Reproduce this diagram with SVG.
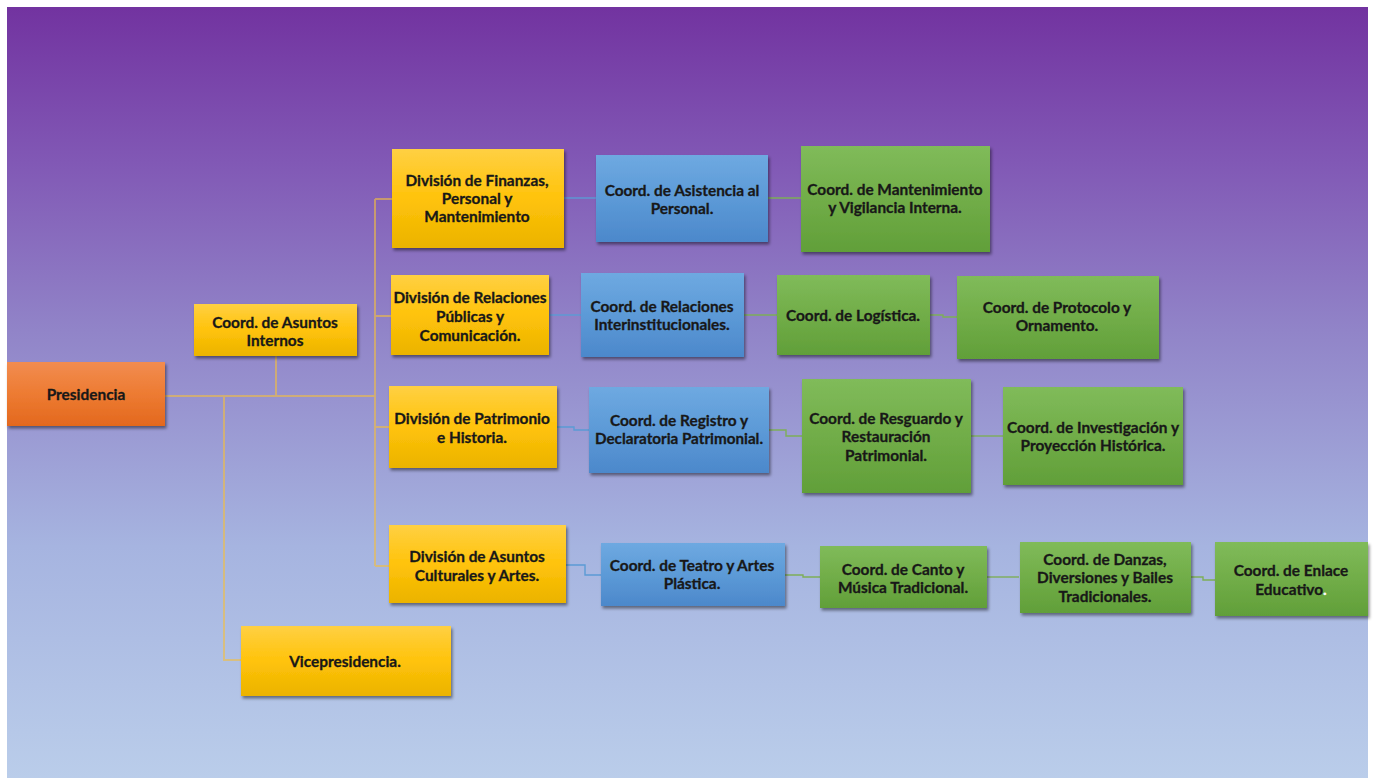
<svg xmlns="http://www.w3.org/2000/svg" width="1375" height="778" viewBox="0 0 1375 778">
<defs>
<linearGradient id="bg" x1="0" y1="0" x2="0" y2="1">
<stop offset="0" stop-color="#7233A0"/>
<stop offset="0.2" stop-color="#8158B5"/>
<stop offset="0.42" stop-color="#9184C8"/>
<stop offset="0.7" stop-color="#A6B4E0"/>
<stop offset="1" stop-color="#BACDEA"/>
</linearGradient>
<linearGradient id="gy" x1="0" y1="0" x2="0" y2="1">
<stop offset="0" stop-color="#FFD043"/>
<stop offset="0.5" stop-color="#FFC30A"/>
<stop offset="1" stop-color="#EBB300"/>
</linearGradient>
<linearGradient id="gb" x1="0" y1="0" x2="0" y2="1">
<stop offset="0" stop-color="#6EA9E1"/>
<stop offset="0.5" stop-color="#5C9AD7"/>
<stop offset="1" stop-color="#4C88CB"/>
</linearGradient>
<linearGradient id="gg" x1="0" y1="0" x2="0" y2="1">
<stop offset="0" stop-color="#80BB5A"/>
<stop offset="0.5" stop-color="#71AD48"/>
<stop offset="1" stop-color="#619F39"/>
</linearGradient>
<linearGradient id="go" x1="0" y1="0" x2="0" y2="1">
<stop offset="0" stop-color="#F28C50"/>
<stop offset="0.5" stop-color="#ED7B32"/>
<stop offset="1" stop-color="#E3681E"/>
</linearGradient>
<filter id="sh" x="-10%" y="-10%" width="125%" height="135%">
<feDropShadow dx="1.5" dy="2.5" stdDeviation="1.6" flood-color="#000" flood-opacity="0.45"/>
</filter>
</defs>
<style>
.y{fill:url(#gy);filter:url(#sh)}
.b{fill:url(#gb);filter:url(#sh)}
.g{fill:url(#gg);filter:url(#sh)}
.o{fill:url(#go);filter:url(#sh)}
text{font-family:Lato,"Open Sans","Liberation Sans",sans-serif;font-weight:bold;font-size:15.4px;fill:#181818;stroke:#181818;stroke-width:0.3;text-anchor:middle;dominant-baseline:central}
.main{fill:none;stroke:#F4BE3E;stroke-opacity:0.6;stroke-width:2}
.cb{fill:none;stroke:#5B9BD5;stroke-width:1.4}
.cg{fill:none;stroke:#7DAE58;stroke-width:1.4}
</style>
<rect x="0" y="0" width="1375" height="778" fill="#FFFFFF"/>
<rect x="7" y="7" width="1361" height="771" fill="url(#bg)"/>

<g id="connectors">
<path class="main" d="M165 396 H375 M276 356 V396 M375 199 V566 M375 199 H392 M375 316 H391 M375 427 H389 M375 566 H389 M224 396 V660 H241"/>
<path class="cb" d="M564 198 H596"/>
<path class="cg" d="M768 198 H801"/>
<path class="cb" d="M549 315 H581"/>
<path class="cg" d="M744 315 H777"/>
<path class="cg" d="M930 315 H943 V317 H957"/>
<path class="cb" d="M557 427 H574 V430 H589"/>
<path class="cg" d="M769 430 H786 V436 H802"/>
<path class="cg" d="M971 436 H1003"/>
<path class="cb" d="M566 565 H585 V575 H601"/>
<path class="cg" d="M784 575 H803 V577 H820"/>
<path class="cg" d="M987 577 H1019"/>
<path class="cg" d="M1191 577 H1203 V580 H1215"/>
</g>

<g id="presidencia">
<rect class="o" x="7" y="362" width="158" height="64"/>
<text x="86" y="394">Presidencia</text>
</g>
<g id="asuntos-internos">
<rect class="y" x="194" y="304" width="163" height="52"/>
<text x="275" y="322">Coord. de Asuntos</text>
<text x="275" y="340">Internos</text>
</g>
<g id="vicepresidencia">
<rect class="y" x="241" y="626" width="210" height="70"/>
<text x="345" y="661">Vicepresidencia.</text>
</g>

<g id="div-finanzas">
<rect class="y" x="392" y="149" width="172" height="99"/>
<text x="477" y="180">División de Finanzas,</text>
<text x="477" y="198">Personal y</text>
<text x="477" y="216">Mantenimiento</text>
</g>
<g id="coord-asistencia">
<rect class="b" x="596" y="155" width="172" height="87"/>
<text x="682" y="190">Coord. de Asistencia al</text>
<text x="682" y="208">Personal.</text>
</g>
<g id="coord-mantenimiento">
<rect class="g" x="801" y="146" width="189" height="106"/>
<text x="895" y="189">Coord. de Mantenimiento</text>
<text x="895" y="207">y Vigilancia  Interna.</text>
</g>

<g id="div-relaciones">
<rect class="y" x="391" y="275" width="158" height="80"/>
<text x="470" y="297">División de Relaciones</text>
<text x="470" y="316">Públicas y</text>
<text x="470" y="335">Comunicación.</text>
</g>
<g id="coord-interinstitucionales">
<rect class="b" x="581" y="273" width="163" height="84"/>
<text x="662" y="306">Coord. de Relaciones</text>
<text x="662" y="324">Interinstitucionales.</text>
</g>
<g id="coord-logistica">
<rect class="g" x="777" y="275" width="153" height="80"/>
<text x="853" y="315">Coord. de Logística.</text>
</g>
<g id="coord-protocolo">
<rect class="g" x="957" y="276" width="202" height="83"/>
<text x="1057" y="307">Coord. de Protocolo y</text>
<text x="1057" y="325">Ornamento.</text>
</g>

<g id="div-patrimonio">
<rect class="y" x="389" y="386" width="168" height="82"/>
<text x="472" y="418">División de Patrimonio</text>
<text x="472" y="437">e Historia.</text>
</g>
<g id="coord-registro">
<rect class="b" x="589" y="387" width="180" height="86"/>
<text x="679" y="420">Coord. de Registro y</text>
<text x="679" y="438" textLength="168" lengthAdjust="spacingAndGlyphs">Declaratoria Patrimonial.</text>
</g>
<g id="coord-resguardo">
<rect class="g" x="802" y="379" width="169" height="114"/>
<text x="886" y="418">Coord. de Resguardo y</text>
<text x="886" y="436">Restauración</text>
<text x="886" y="455">Patrimonial.</text>
</g>
<g id="coord-investigacion">
<rect class="g" x="1003" y="387" width="180" height="98"/>
<text x="1093" y="427">Coord. de Investigación y</text>
<text x="1093" y="445">Proyección Histórica.</text>
</g>

<g id="div-culturales">
<rect class="y" x="389" y="525" width="177" height="78"/>
<text x="477" y="556">División de Asuntos</text>
<text x="477" y="575">Culturales y Artes.</text>
</g>
<g id="coord-teatro">
<rect class="b" x="601" y="543" width="184" height="63"/>
<text x="692" y="565">Coord. de Teatro y Artes</text>
<text x="692" y="583">Plástica.</text>
</g>
<g id="coord-canto">
<rect class="g" x="820" y="546" width="167" height="62"/>
<text x="903" y="569">Coord. de Canto y</text>
<text x="903" y="587">Música Tradicional.</text>
</g>
<g id="coord-danzas">
<rect class="g" x="1020" y="542" width="171" height="71"/>
<text x="1105" y="559">Coord. de Danzas,</text>
<text x="1105" y="577">Diversiones y Bailes</text>
<text x="1105" y="596">Tradicionales.</text>
</g>
<g id="coord-enlace">
<rect class="g" x="1215" y="542" width="153" height="74"/>
<text x="1291" y="570">Coord. de Enlace</text>
<text x="1291" y="589">Educativo<tspan fill="#FFFFFF" stroke="#FFFFFF">.</tspan></text>
</g>
</svg>
